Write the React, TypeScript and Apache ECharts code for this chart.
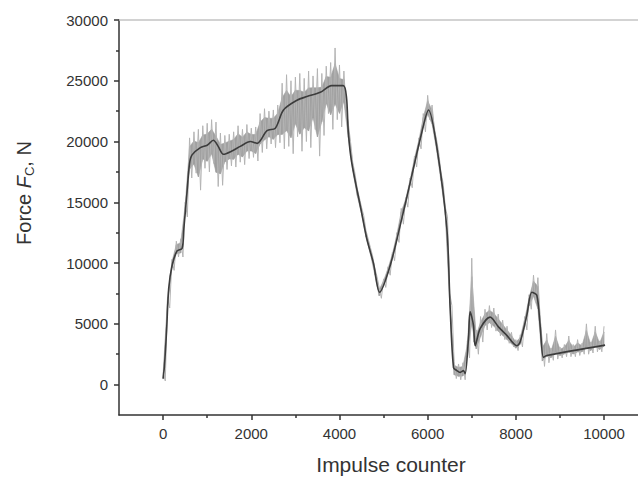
import React, { useEffect, useRef } from "react";
import * as echarts from "echarts";

// Smoothed (mean) force curve
const meanX = [0, 30, 80, 127, 204, 317, 430, 470, 544, 600, 657, 845, 1000, 1140, 1250, 1367, 1550, 1750, 1980, 2130, 2357, 2545, 2730, 3036, 3263, 3565, 3820, 4086, 4160, 4200, 4274, 4500, 4620, 4773, 4910, 5150, 5416, 5640, 5850, 6020, 6210, 6435, 6510, 6586, 6662, 6737, 6812, 6850, 6925, 6963, 7038, 7077, 7190, 7417, 7605, 7795, 8022, 8096, 8248, 8362, 8475, 8550, 8625, 8701, 10023];
const meanY = [500, 1500, 4500, 7900, 9800, 11000, 11200, 12800, 15900, 18200, 18900, 19500, 19700, 20100, 19600, 18950, 19200, 19600, 20000, 19850, 20900, 21100, 22600, 23400, 23700, 24050, 24600, 24600, 23600, 20800, 18350, 14200, 12000, 9950, 7600, 9800, 13700, 17200, 20500, 22600, 19500, 12850, 6300, 1400, 1150, 1000, 1150, 900, 3800, 6000, 4900, 3200, 4600, 5550, 4750, 4050, 3200, 3500, 5700, 7600, 7350, 4900, 2250, 2400, 3250];

// Raw (noisy) signal envelope
const bandX = [0, 100, 200, 300, 400, 500, 600, 700, 800, 900, 1000, 1100, 1200, 1300, 1400, 1500, 1600, 1700, 1800, 1900, 2000, 2100, 2200, 2300, 2400, 2500, 2600, 2700, 2800, 2900, 3000, 3100, 3200, 3300, 3400, 3500, 3600, 3700, 3800, 3900, 4000, 4100, 4200, 4300, 4400, 4500, 4600, 4700, 4800, 4900, 5000, 5100, 5200, 5300, 5400, 5500, 5600, 5700, 5800, 5900, 6000, 6100, 6200, 6300, 6400, 6500, 6600, 6700, 6800, 6900, 7000, 7100, 7200, 7300, 7400, 7500, 7600, 7700, 7800, 7900, 8000, 8100, 8200, 8300, 8400, 8500, 8600, 8700, 8800, 8900, 9000, 9100, 9200, 9300, 9400, 9500, 9600, 9700, 9800, 9900, 10000];
const bandHi = [1000, 7200, 10300, 11800, 12000, 15000, 20300, 20800, 21000, 21300, 21500, 21800, 21600, 20700, 20500, 20600, 20800, 21300, 21000, 21400, 21100, 21200, 22300, 22700, 22500, 22600, 23000, 24800, 25500, 25000, 25300, 25600, 25200, 25800, 25400, 26000, 25600, 26200, 26500, 27700, 26300, 25800, 21500, 18300, 16200, 14600, 12700, 11300, 9600, 8000, 8700, 9700, 10900, 12500, 14500, 15400, 17000, 18800, 20300, 22300, 23800, 23000, 20200, 17500, 14600, 7500, 1900, 1700, 1800, 3600, 10400, 4500, 5600, 6200, 6500, 6300, 5800, 5300, 4800, 4300, 3700, 4100, 5600, 7400, 9000, 8800, 3500, 4200, 3000, 4500, 3100, 3300, 4000, 3300, 3700, 3400, 5000, 3500, 4800, 3600, 4800];
const bandLo = [300, 6300, 9400, 10500, 10500, 13800, 17000, 17400, 16000, 17800, 17500, 18200, 16300, 16400, 17700, 18000, 17900, 18300, 18100, 18600, 18700, 18400, 19100, 19400, 19800, 19500, 19900, 19400, 19600, 19000, 20400, 19200, 20000, 19500, 21000, 18800, 20500, 22300, 21000, 21800, 21200, 22600, 20000, 17400, 15400, 13900, 12000, 10600, 8900, 7100, 8000, 9000, 10200, 11700, 13200, 14600, 16200, 17900, 19400, 20800, 21800, 21000, 19100, 16600, 13800, 6500, 500, 400, 400, 2200, 3500, 2500, 3500, 4500, 4700, 4400, 4000, 3700, 3400, 3100, 2800, 3100, 4500, 6200, 6800, 5500, 1500, 1800, 2000, 2100, 2200, 2300, 2300, 2300, 2400, 2500, 2500, 2600, 2700, 2700, 2700];

const xTickLabels = [0, 2000, 4000, 6000, 8000, 10000];
const xMinorTicks = [1000, 3000, 5000, 7000, 9000];
const yTickLabels = [0, 5000, 10000, 15000, 20000, 25000, 30000];
const yMinorTicks = [2500, 7500, 12500, 17500, 22500, 27500];

const X_MIN = -1000;
const X_MAX = 10770;
const Y_MIN = -2500;
const Y_MAX = 30000;

export default function App() {
  const ref = useRef<HTMLDivElement>(null);
  useEffect(() => {
    const chart = echarts.init(ref.current!, null, { renderer: "svg" });
    const font = "Liberation Sans, Arial, sans-serif";
    const axisColor = "#333";

    const meanData = meanX.map((x, i) => [x, meanY[i]]);
    // band segments: [x0, hi0, lo0, x1, hi1, lo1]
    const bandSegs = bandX.slice(0, -1).map((x, i) => [x, bandHi[i], bandLo[i], bandX[i + 1], bandHi[i + 1], bandLo[i + 1]]);
    const zig: number[][] = [];
    bandX.forEach((x, i) => {
      zig.push([x, bandHi[i]]);
      if (i < bandX.length - 1) zig.push([x + 50, bandLo[i]]);
    });

    const baseX = { type: "value" as const, min: X_MIN, max: X_MAX, splitLine: { show: false } };
    const baseY = { type: "value" as const, min: Y_MIN, max: Y_MAX, splitLine: { show: false } };
    const plain = (v: number) => String(v);

    chart.setOption({
      animation: false,
      backgroundColor: "#fff",
      grid: { left: 119, right: 0, top: 20, bottom: 63, containLabel: false, outerBoundsMode: "none" },
      xAxis: [
        {
          ...baseX,
          position: "bottom",
          axisLine: { show: true, onZero: false, lineStyle: { color: axisColor, width: 1.5 } },
          axisTick: { show: true, customValues: xTickLabels, length: 5, lineStyle: { color: axisColor, width: 1.5 } },
          axisLabel: { customValues: xTickLabels, formatter: plain, fontSize: 15, color: axisColor, margin: 11, fontFamily: font },
          name: "Impulse counter",
          nameLocation: "middle",
          nameGap: 39,
          nameTextStyle: { fontSize: 21, color: axisColor, fontFamily: font, padding: [0, 0, 0, 25] },
        },
        {
          ...baseX,
          position: "bottom",
          axisLine: { show: false, onZero: false },
          axisTick: { show: true, customValues: xMinorTicks, length: 3, lineStyle: { color: axisColor, width: 1.5 } },
          axisLabel: { show: false },
        },
        {
          ...baseX,
          position: "top",
          axisLine: { show: true, onZero: false, lineStyle: { color: "#c4c4c4", width: 1.5 } },
          axisTick: { show: false },
          axisLabel: { show: false },
        },
      ],
      yAxis: [
        {
          ...baseY,
          position: "left",
          axisLine: { show: true, onZero: false, lineStyle: { color: axisColor, width: 1.5 } },
          axisTick: { show: true, customValues: yTickLabels, length: 5, lineStyle: { color: axisColor, width: 1.5 } },
          axisLabel: { customValues: yTickLabels, formatter: plain, fontSize: 15, color: axisColor, margin: 11, fontFamily: font },
          name: "{a|Force }{i|F}{s|C}{a|, N}",
          nameLocation: "middle",
          nameRotate: 90,
          nameGap: 83,
          nameTextStyle: {
            padding: [0, 0, 0, 49],
            rich: {
              a: { fontSize: 20, color: axisColor, fontFamily: font, lineHeight: 24, verticalAlign: "middle" },
              i: { fontSize: 20, color: axisColor, fontFamily: font, fontStyle: "italic", lineHeight: 24, verticalAlign: "middle" },
              s: { fontSize: 13, color: axisColor, fontFamily: font, lineHeight: 13, verticalAlign: "bottom" },
            },
          },
        },
        {
          ...baseY,
          position: "left",
          axisLine: { show: false, onZero: false },
          axisTick: { show: true, customValues: yMinorTicks, length: 3, lineStyle: { color: axisColor, width: 1.5 } },
          axisLabel: { show: false },
        },
      ],
      series: [
        {
          type: "custom",
          name: "band",
          data: bandSegs,
          silent: true,
          renderItem: (params: any, api: any) => {
            const x0 = api.value(0), h0 = api.value(1), l0 = api.value(2);
            const x1 = api.value(3), h1 = api.value(4), l1 = api.value(5);
            const q0 = 0.22 * (h0 - l0);
            const q1 = 0.22 * (h1 - l1);
            const pts = [
              api.coord([x0, h0 - q0]),
              api.coord([x1, h1 - q1]),
              api.coord([x1, l1 + q1]),
              api.coord([x0, l0 + q0]),
            ];
            return {
              type: "polygon",
              shape: { points: pts },
              style: { fill: "#a0a0a0", stroke: "#a0a0a0", lineWidth: 0.6 },
            };
          },
          z: 1,
        },
        {
          type: "line",
          name: "raw",
          data: zig,
          symbol: "none",
          lineStyle: { color: "#b4b4b4", width: 1 },
          silent: true,
          z: 2,
        },
        {
          type: "line",
          name: "mean",
          data: meanData,
          symbol: "none",
          smooth: 0.3,
          lineStyle: { color: "#3c3c3c", width: 1.6 },
          silent: true,
          z: 5,
        },
      ],
    });
    return () => chart.dispose();
  }, []);

  return (
    <div
      ref={ref}
      style={{ position: "absolute", left: 0, top: 0, width: 638, height: 478, background: "#fff" }}
    />
  );
}
